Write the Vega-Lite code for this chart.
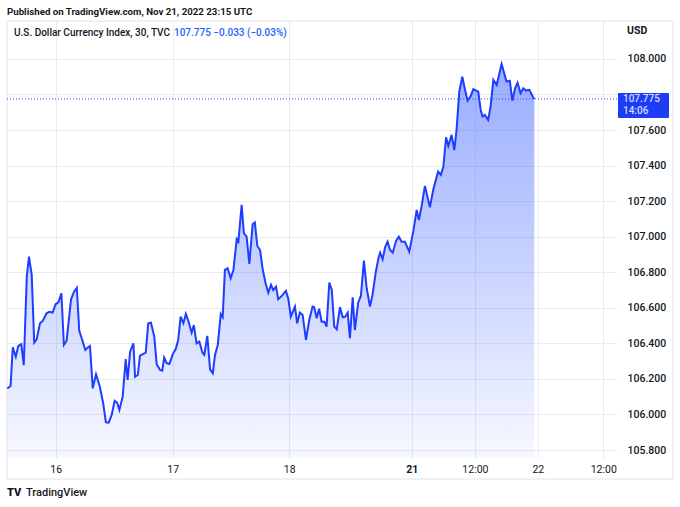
{
  "$schema": "https://vega.github.io/schema/vega-lite/v6.json",
  "width": 610,
  "height": 437,
  "autosize": "none",
  "padding": {"left": 7, "top": 21, "right": 63, "bottom": 49},
  "background": "#ffffff",
  "config": {"view": {"stroke": null}, "font": "Roboto"},
  "datasets": {
    "one": [{}],
    "dxy": [
    {"b":0.1,"v":106.147},{"b":1.3,"v":106.16},{"b":2.1,"v":106.378},{"b":3.2,"v":106.325},{"b":4.1,"v":106.385},
    {"b":5.2,"v":106.395},{"b":6.1,"v":106.277},{"b":7.2,"v":106.775},{"b":8.0,"v":106.888},{"b":9.0,"v":106.785},
    {"b":9.9,"v":106.404},{"b":10.8,"v":106.423},{"b":12.0,"v":106.513},{"b":13.0,"v":106.526},{"b":14.4,"v":106.569},
    {"b":15.4,"v":106.577},{"b":16.6,"v":106.573},{"b":17.7,"v":106.62},{"b":18.7,"v":106.631},{"b":19.8,"v":106.682},
    {"b":20.7,"v":106.391},{"b":21.7,"v":106.415},{"b":23.3,"v":106.648},{"b":24.4,"v":106.691},{"b":25.4,"v":106.712},
    {"b":26.3,"v":106.47},{"b":27.3,"v":106.423},{"b":28.5,"v":106.363},{"b":29.4,"v":106.376},{"b":30.2,"v":106.385},
    {"b":31.2,"v":106.147},{"b":32.4,"v":106.226},{"b":33.8,"v":106.156},{"b":35.0,"v":106.063},{"b":36.0,"v":105.956},
    {"b":37.0,"v":105.954},{"b":38.1,"v":105.997},{"b":39.2,"v":106.077},{"b":40.1,"v":106.066},{"b":40.9,"v":106.025},
    {"b":42.1,"v":106.10},{"b":43.2,"v":106.312},{"b":43.9,"v":106.194},{"b":44.8,"v":106.353},{"b":46.0,"v":106.40},
    {"b":46.6,"v":106.212},{"b":47.6,"v":106.222},{"b":48.4,"v":106.331},{"b":50.5,"v":106.348},{"b":51.4,"v":106.513},
    {"b":52.4,"v":106.516},{"b":53.6,"v":106.438},{"b":54.5,"v":106.282},{"b":55.7,"v":106.25},{"b":56.5,"v":106.246},
    {"b":57.2,"v":106.32},{"b":58.1,"v":106.288},{"b":59.1,"v":106.284},{"b":60.3,"v":106.338},{"b":61.4,"v":106.368},
    {"b":62.3,"v":106.419},{"b":63.2,"v":106.55},{"b":64.2,"v":106.513},{"b":65.1,"v":106.565},{"b":66.2,"v":106.516},
    {"b":67.2,"v":106.46},{"b":68.0,"v":106.503},{"b":69.0,"v":106.40},{"b":70.0,"v":106.41},{"b":71.1,"v":106.348},
    {"b":71.8,"v":106.335},{"b":72.9,"v":106.442},{"b":73.9,"v":106.254},{"b":74.9,"v":106.232},{"b":75.7,"v":106.335},
    {"b":76.7,"v":106.391},{"b":77.8,"v":106.565},{"b":78.5,"v":106.547},{"b":79.3,"v":106.813},{"b":80.3,"v":106.822},
    {"b":81.4,"v":106.766},{"b":82.4,"v":106.813},{"b":83.6,"v":106.986},{"b":84.2,"v":106.972},{"b":85.4,"v":107.179},
    {"b":86.2,"v":107.02},{"b":87.2,"v":107.0},{"b":88.2,"v":106.847},{"b":89.4,"v":107.07},{"b":90.2,"v":107.08},
    {"b":91.1,"v":106.948},{"b":92.1,"v":106.925},{"b":93.0,"v":106.822},{"b":94.1,"v":106.738},{"b":95.1,"v":106.685},
    {"b":96.1,"v":106.729},{"b":96.9,"v":106.70},{"b":97.9,"v":106.719},{"b":98.7,"v":106.648},{"b":100.0,"v":106.667},
    {"b":101.5,"v":106.695},{"b":102.4,"v":106.648},{"b":103.3,"v":106.55},{"b":104.8,"v":106.607},{"b":105.6,"v":106.513},
    {"b":106.6,"v":106.573},{"b":107.6,"v":106.56},{"b":108.8,"v":106.419},{"b":110.0,"v":106.531},{"b":111.2,"v":106.607},
    {"b":111.8,"v":106.603},{"b":112.7,"v":106.541},{"b":113.6,"v":106.595},{"b":114.5,"v":106.522},{"b":115.5,"v":106.522},
    {"b":116.3,"v":106.494},{"b":117.3,"v":106.742},{"b":118.2,"v":106.70},{"b":119.1,"v":106.494},{"b":120.0,"v":106.479},
    {"b":121.2,"v":106.603},{"b":122.2,"v":106.547},{"b":123.1,"v":106.55},{"b":124.0,"v":106.573},{"b":124.8,"v":106.429},
    {"b":125.8,"v":106.659},{"b":126.6,"v":106.475},{"b":127.8,"v":106.629},{"b":128.8,"v":106.667},{"b":129.9,"v":106.865},
    {"b":130.9,"v":106.71},{"b":132.1,"v":106.607},{"b":133.0,"v":106.67},{"b":134.2,"v":106.80},{"b":135.2,"v":106.88},
    {"b":135.8,"v":106.91},{"b":136.7,"v":106.873},{"b":137.6,"v":106.94},{"b":138.5,"v":106.972},{"b":139.4,"v":106.925},
    {"b":140.4,"v":106.91},{"b":141.6,"v":106.978},{"b":142.6,"v":107.0},{"b":143.6,"v":106.972},{"b":144.8,"v":106.972},
    {"b":146.4,"v":106.916},{"b":147.9,"v":107.034},{"b":149.1,"v":107.151},{"b":149.9,"v":107.094},{"b":150.9,"v":107.173},
    {"b":152.1,"v":107.286},{"b":153.9,"v":107.166},{"b":155.1,"v":107.263},{"b":156.4,"v":107.338},{"b":156.9,"v":107.366},
    {"b":157.9,"v":107.348},{"b":158.8,"v":107.394},{"b":159.8,"v":107.559},{"b":160.6,"v":107.51},{"b":161.8,"v":107.573},
    {"b":162.8,"v":107.488},{"b":163.6,"v":107.60},{"b":164.6,"v":107.816},{"b":165.7,"v":107.90},{"b":166.7,"v":107.826},
    {"b":167.6,"v":107.766},{"b":168.7,"v":107.789},{"b":169.7,"v":107.83},{"b":171.5,"v":107.816},{"b":172.4,"v":107.713},
    {"b":173.1,"v":107.676},{"b":173.9,"v":107.685},{"b":175.1,"v":107.657},{"b":176.0,"v":107.732},{"b":177.0,"v":107.882},
    {"b":178.2,"v":107.854},{"b":180.0,"v":107.972},{"b":181.8,"v":107.873},{"b":183.0,"v":107.877},{"b":183.9,"v":107.765},
    {"b":184.9,"v":107.835},{"b":185.8,"v":107.867},{"b":186.9,"v":107.807},{"b":187.9,"v":107.835},{"b":188.9,"v":107.822},
    {"b":190.1,"v":107.826},{"b":191.5,"v":107.785},{"b":191.9,"v":107.775}
  ]},
  "layer": [
    {
      "data": {"name": "one"},
      "mark": {"type": "rect", "fill": null, "stroke": "#e0e3eb", "strokeWidth": 1, "clip": false, "x2Offset": 56, "y2Offset": 21},
      "encoding": {
        "x": {"datum": 0, "type": "quantitative", "scale": {"domain": [0, 222], "nice": false, "zero": false},
          "axis": {
            "values": [17.7, 60.3, 102.7, 147.3, 170.3, 193.2, 217.0],
            "tickCount": 20,
            "labelExpr": "datum.value < 30 ? '16' : datum.value < 80 ? '17' : datum.value < 120 ? '18' : datum.value < 160 ? '21' : datum.value < 180 ? '12:00' : datum.value < 200 ? '22' : '12:00'",
            "grid": true, "gridColor": "#e9ebf0", "gridWidth": 1,
            "ticks": false, "domain": false, "labelFlush": false, "labelPadding": 6, "labelOverlap": false,
            "labelFontSize": 10.5, "labelColor": "#131722", "labelFont": "Roboto",
            "labelFontWeight": {"condition": {"test": "datum.value > 140 && datum.value < 150", "value": "bold"}, "value": "normal"},
            "title": null
          }},
        "x2": {"datum": 222},
        "y": {"datum": 108.2135, "type": "quantitative", "scale": {"domain": [105.755, 108.2135], "nice": false, "zero": false},
          "axis": {
            "orient": "right",
            "values": [105.8, 106.0, 106.2, 106.4, 106.6, 106.8, 107.0, 107.2, 107.4, 107.6, 107.8, 108.0],
            "tickCount": 30,
            "labelExpr": "abs(datum.value - 107.8) < 0.01 ? '' : format(datum.value, '.3f')",
            "grid": true, "gridColor": "#e9ebf0", "gridWidth": 1,
            "ticks": false, "domain": false, "labelPadding": 10, "labelOverlap": false,
            "labelFontSize": 10.5, "labelColor": "#131722", "labelFont": "Roboto", "labelFontWeight": 500,
            "title": null
          }},
        "y2": {"datum": 105.755}
      }
    },
    {
      "data": {"name": "dxy"},
      "mark": {"type": "area", "interpolate": "linear",
        "color": {"gradient": "linear", "x1": 0, "y1": 1, "x2": 0, "y2": 0,
          "stops": [{"offset": 0, "color": "rgba(41,82,255,0.04)"}, {"offset": 1, "color": "rgba(41,82,255,0.48)"}]}},
      "encoding": {
        "x": {"field": "b", "type": "quantitative"},
        "y": {"field": "v", "type": "quantitative"},
        "y2": {"datum": 105.755}
      }
    },
    {
      "data": {"name": "one"},
      "mark": {"type": "rule", "color": "#2a4bff", "strokeWidth": 1, "strokeDash": [1, 2]},
      "encoding": {"y": {"datum": 107.775}}
    },
    {
      "data": {"name": "dxy"},
      "mark": {"type": "line", "color": "#1f3dff", "strokeWidth": 2, "interpolate": "linear"},
      "encoding": {
        "x": {"field": "b", "type": "quantitative"},
        "y": {"field": "v", "type": "quantitative"}
      }
    },
    {
      "data": {"name": "one"},
      "mark": {"type": "rect", "fill": "#1f3cf5", "clip": false, "xOffset": 1, "x2Offset": 52, "yOffset": -6, "y2Offset": 19, "cornerRadius": 1},
      "encoding": {"x": {"datum": 222}, "x2": {"datum": 222}, "y": {"datum": 107.775}, "y2": {"datum": 107.775}}
    },
    {
      "data": {"name": "one"},
      "mark": {"type": "text", "align": "left", "baseline": "middle", "dx": 6, "dy": 0.5, "fontSize": 10, "fontWeight": 500, "color": "#d4dcff", "clip": false},
      "encoding": {"x": {"datum": 222}, "y": {"datum": 107.775}, "text": {"value": "107.775"}}
    },
    {
      "data": {"name": "one"},
      "mark": {"type": "text", "align": "left", "baseline": "middle", "dx": 6, "dy": 12.5, "fontSize": 10, "fontWeight": 500, "color": "#d4dcff", "clip": false},
      "encoding": {"x": {"datum": 222}, "y": {"datum": 107.775}, "text": {"value": "14:06"}}
    },
    {
      "data": {"name": "one"},
      "mark": {"type": "text", "align": "left", "baseline": "middle", "dx": 10, "dy": 10, "fontSize": 10.5, "fontWeight": "bold", "color": "#131722", "clip": false},
      "encoding": {"x": {"datum": 222}, "y": {"datum": 108.2135}, "text": {"value": "USD"}}
    },
    {
      "data": {"name": "one"},
      "mark": {"type": "text", "align": "left", "baseline": "middle", "dx": 0, "dy": -9, "fontSize": 9.7, "fontWeight": "bold", "color": "#131722", "clip": false},
      "encoding": {"x": {"datum": 0}, "y": {"datum": 108.2135}, "text": {"value": "Published on TradingView.com, Nov 21, 2022 23:15 UTC"}}
    },
    {
      "data": {"name": "one"},
      "mark": {"type": "text", "align": "left", "baseline": "middle", "dx": 7, "dy": 12, "fontSize": 10, "fontWeight": 500, "color": "#131722", "clip": false},
      "encoding": {"x": {"datum": 0}, "y": {"datum": 108.2135}, "text": {"value": "U.S. Dollar Currency Index, 30, TVC"}}
    },
    {
      "data": {"name": "one"},
      "mark": {"type": "text", "align": "left", "baseline": "middle", "dx": 167, "dy": 12, "fontSize": 10, "fontWeight": 500, "color": "#2962ff", "clip": false},
      "encoding": {"x": {"datum": 0}, "y": {"datum": 108.2135}, "text": {"value": "107.775  −0.033 (−0.03%)"}}
    },
    {
      "data": {"name": "one"},
      "mark": {"type": "text", "align": "left", "baseline": "middle", "dx": 0, "dy": 35, "fontSize": 11, "fontWeight": 900, "color": "#131722", "clip": false},
      "encoding": {"x": {"datum": 0}, "y": {"datum": 105.755}, "text": {"value": "TV"}}
    },
    {
      "data": {"name": "one"},
      "mark": {"type": "text", "align": "left", "baseline": "middle", "dx": 19, "dy": 35, "fontSize": 11, "fontWeight": 500, "color": "#131722", "clip": false},
      "encoding": {"x": {"datum": 0}, "y": {"datum": 105.755}, "text": {"value": "TradingView"}}
    }
  ]
}
